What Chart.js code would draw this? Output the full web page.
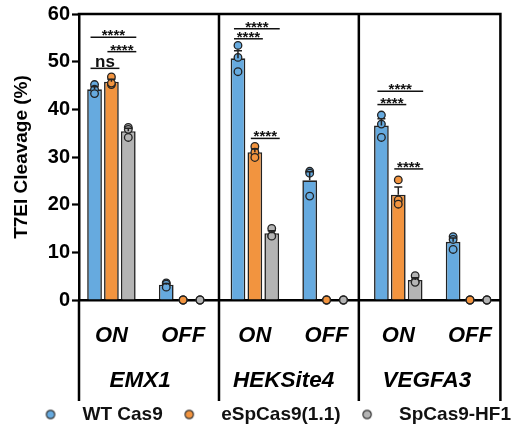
<!DOCTYPE html>
<html><head><meta charset="utf-8">
<script src="https://cdn.jsdelivr.net/npm/chart.js@4.4.1/dist/chart.umd.min.js"></script>
<style>html,body{margin:0;padding:0;background:#fff;}#wrap{width:515px;height:438px;position:relative;}</style>
</head><body><div id="wrap"><canvas id="c"></canvas></div>
<script>
// ---------- data ----------
const groups = ['EMX1', 'HEKSite4', 'VEGFA3'];
const sites = ['ON', 'OFF', 'ON', 'OFF', 'ON', 'OFF'];
const seriesNames = ['WT Cas9', 'eSpCas9(1.1)', 'SpCas9-HF1'];
const wtMean  = [44.2, 3.2, 50.7, 25.1, 36.6, 12.2];
const eSpMean = [45.8, 0, 31.0, 0, 22.1, 0];
const hfMean  = [35.4, 0, 14.0, 0, 4.2, 0];
const wtErr  = [0.55, 0.26, 1.6, 1.8, 1.4, 0.8];
const eSpErr = [0.5, 0, 0.66, 0, 1.6, 0];
const hfErr  = [0.64, 0, 0.52, 0, 0.45, 0];
const wtPts  = [[45.2, 44.2, 43.3], [3.6, 3.3, 2.7], [53.4, 50.9, 47.9], [27.0, 26.6, 21.8], [38.8, 36.9, 34.1], [13.3, 12.7, 10.6]];
const eSpPts = [[46.8, 45.2, 45.5], [0, 0, 0], [32.2, 31.0, 29.9], [0, 0, 0], [25.2, 21.0, 20.1], [0, 0, 0]];
const hfPts  = [[36.2, 35.8, 34.1], [0, 0, 0], [15.0, 13.5, 13.4], [0, 0, 0], [5.1, 3.9, 3.7], [0, 0, 0]];
const yTicks = [0, 10, 20, 30, 40, 50, 60];
// significance brackets
const sigSite = [0, 0, 0, 2, 2, 2, 4, 4, 4];
const sigFrom = [0, 0, 1, 0, 0, 1, 0, 0, 1];
const sigTo   = [2, 1, 2, 2, 1, 2, 2, 1, 2];
const sigY    = [55.1, 48.6, 52.1, 56.9, 54.8, 33.9, 43.8, 41.0, 27.5];
const sigText = ['****', 'ns', '****', '****', '****', '****', '****', '****', '****'];

// ---------- styling / layout ----------
const FONT = "'Liberation Sans', Arial, sans-serif";
const colors = ['#66AADF', '#F2943F', '#B4B4B4'];
const EDGE = '#222';
const CAT_PCT = 0.706, BAR_PCT = 0.872;
const X_MIN = -0.452, X_MAX = 5.424;
const DIVIDERS = [1.5, 3.45];
const GENE_SHIFT = 0.1;

const means = [wtMean, eSpMean, hfMean];
const errs = [wtErr, eSpErr, hfErr];
const pts = [wtPts, eSpPts, hfPts];

function marker(color) {
  const c = document.createElement('canvas');
  c.width = 12; c.height = 12;
  const g = c.getContext('2d');
  g.beginPath(); g.arc(6, 6, 4.2, 0, Math.PI * 2);
  g.fillStyle = color; g.fill();
  g.lineWidth = 1.2; g.strokeStyle = '#333'; g.stroke();
  return c;
}
const markers = colors.map(marker);

const barSets = seriesNames.map((n, k) => ({
  type: 'bar', label: n,
  data: means[k].map((v, i) => ({x: i, y: v})),
  backgroundColor: colors[k], borderColor: EDGE, borderWidth: 1.6,
  categoryPercentage: CAT_PCT, barPercentage: BAR_PCT, order: 2
}));
const ptSets = seriesNames.map((n, k) => ({
  type: 'scatter', label: n + ' replicates',
  data: pts[k].flatMap((arr, i) => arr.map(v => ({x: i + (k - 1) * CAT_PCT / 3, y: v}))),
  backgroundColor: colors[k], borderColor: EDGE, borderWidth: 1.3,
  pointRadius: 3.8, clip: false, order: 0
}));

const errorPlugin = {
  id: 'errs',
  afterDatasetsDraw(chart) {
    const {ctx} = chart; const y = chart.scales.y;
    ctx.save(); ctx.strokeStyle = EDGE; ctx.lineWidth = 1.5;
    for (let k = 0; k < 3; k++) {
      const meta = chart.getDatasetMeta(k);
      meta.data.forEach((bar, i) => {
        if (!errs[k][i]) return;
        const t = y.getPixelForValue(means[k][i] + errs[k][i]);
        ctx.beginPath();
        ctx.moveTo(bar.x, bar.y); ctx.lineTo(bar.x, t);
        ctx.moveTo(bar.x - 4, t); ctx.lineTo(bar.x + 4, t);
        ctx.stroke();
      });
    }
    ctx.restore();
  }
};

const sigPlugin = {
  id: 'sig',
  afterDatasetsDraw(chart) {
    const {ctx} = chart; const y = chart.scales.y;
    ctx.save(); ctx.strokeStyle = '#111'; ctx.fillStyle = '#111'; ctx.lineWidth = 1.5;
    ctx.textAlign = 'center'; ctx.textBaseline = 'alphabetic';
    sigY.forEach((v, j) => {
      const a = chart.getDatasetMeta(sigFrom[j]).data[sigSite[j]];
      const b = chart.getDatasetMeta(sigTo[j]).data[sigSite[j]];
      const x1 = a.x - 4, x2 = b.x + 8, py = y.getPixelForValue(v);
      ctx.beginPath(); ctx.moveTo(x1, py); ctx.lineTo(x2, py); ctx.stroke();
      if (sigText[j] === 'ns') {
        ctx.font = 'bold 17px ' + FONT;
        ctx.fillText(sigText[j], (x1 + x2) / 2, py - 1.5);
      } else {
        ctx.font = 'bold 15px ' + FONT;
        ctx.fillText(sigText[j], (x1 + x2) / 2, py + 3);
      }
    });
    ctx.restore();
  }
};

const framePlugin = {
  id: 'frame',
  afterDraw(chart) {
    const {ctx, chartArea: a, scales} = chart;
    const bottom = scales.x2.bottom;
    ctx.save(); ctx.strokeStyle = '#000'; ctx.lineWidth = 2.5;
    ctx.beginPath();
    ctx.moveTo(a.left - 1.25, a.top); ctx.lineTo(a.right + 1.25, a.top);
    ctx.moveTo(a.left, a.bottom); ctx.lineTo(a.left, bottom);
    ctx.moveTo(a.right, a.top); ctx.lineTo(a.right, bottom);
    DIVIDERS.forEach(d => {
      const px = scales.x.getPixelForValue(d);
      ctx.moveTo(px, a.top); ctx.lineTo(px, bottom);
    });
    ctx.stroke();
    ctx.restore();
  }
};

new Chart(document.getElementById('c'), {
  type: 'bar',
  data: {datasets: [...barSets, ...ptSets]},
  plugins: [errorPlugin, sigPlugin, framePlugin],
  options: {
    responsive: true, maintainAspectRatio: false, animation: false, events: [],
    layout: {padding: {top: 13.4, left: 0, right: 0, bottom: 4}},
    scales: {
      x: {
        type: 'linear', position: 'bottom', weight: 0, min: X_MIN, max: X_MAX, offset: false,
        afterBuildTicks: s => { s.ticks = sites.map((_, i) => ({value: i})); },
        ticks: {autoSkip: false, maxRotation: 0, callback: (v, i) => sites[i],
          font: {family: FONT, size: 22, weight: 'bold', style: 'italic'}, color: '#000', padding: 22.5},
        grid: {display: false, drawTicks: false},
        border: {display: true, color: '#000', width: 2.5},
        afterFit: s => { s.height = 60; }
      },
      x2: {
        type: 'linear', position: 'bottom', weight: 1, min: X_MIN, max: X_MAX, offset: false,
        afterBuildTicks: s => { s.ticks = groups.map((_, g) => ({value: 2 * g + 0.5 - GENE_SHIFT})); },
        ticks: {autoSkip: false, maxRotation: 0, callback: (v, i) => groups[i],
          font: {family: FONT, size: 22.5, weight: 'bold', style: 'italic'}, color: '#000', padding: 7},
        grid: {display: false, drawTicks: false},
        border: {display: false},
        afterFit: s => { s.height = 41; }
      },
      y: {
        type: 'linear', position: 'left', min: 0, max: 60,
        afterBuildTicks: s => { s.ticks = yTicks.map(v => ({value: v})); },
        ticks: {font: {family: FONT, size: 20, weight: 'bold'}, color: '#000', padding: 2},
        grid: {drawOnChartArea: false, drawTicks: true, tickLength: 7, tickWidth: 2.2, tickColor: '#000'},
        border: {display: true, color: '#000', width: 2.5},
        title: {display: true, text: 'T7EI Cleavage (%)', color: '#000',
          font: {family: FONT, size: 19, weight: 'bold'}, padding: {top: 10.5, bottom: 0}},
        afterFit: s => { s.width = 79; }
      },
      yR: {
        type: 'linear', position: 'right', min: 0, max: 60, display: true,
        grid: {display: false, drawTicks: false}, border: {display: false}, ticks: {display: false},
        afterFit: s => { s.width = 7; }
      }
    },
    plugins: {
      tooltip: {enabled: false},
      legend: {
        position: 'bottom', align: 'end',
        labels: {
          usePointStyle: true, pointStyleWidth: 45, padding: 4,
          font: {family: FONT, size: 19, weight: 'bold'}, color: '#111',
          generateLabels: () => seriesNames.map((n, k) => ({
            text: n, fillStyle: colors[k], strokeStyle: '#333', lineWidth: 1,
            pointStyle: markers[k], datasetIndex: k, hidden: false, fontColor: '#111'
          }))
        }
      }
    }
  }
});
</script>
</body></html>
